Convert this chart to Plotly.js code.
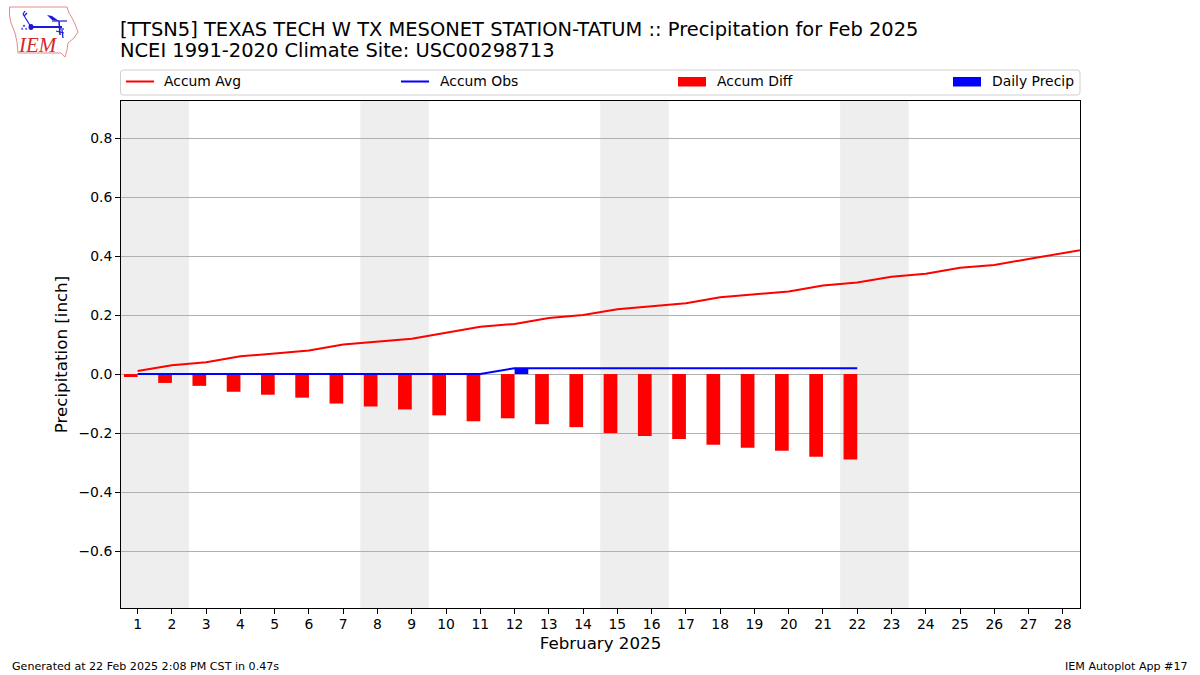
<!DOCTYPE html>
<html>
<head>
<meta charset="utf-8">
<script src="https://cdn.plot.ly/plotly-3.0.1.min.js"></script>
<style>html,body{margin:0;padding:0;background:#fff}#chart{width:1200px;height:675px}</style>
</head>
<body>
<div id="chart"></div>
<script>
const dayTicks = [1,2,3,4,5,6,7,8,9,10,11,12,13,14,15,16,17,18,19,20,21,22,23,24,25,26,27,28];
const avgDays = [1,2,3,4,5,6,7,8,9,10,11,12,13,14,15,16,17,18,19,20,21,22,23,24,25,26,27,28,29];
const accumAvg = [0.01,0.03,0.04,0.06,0.07,0.08,0.10,0.11,0.12,0.14,0.16,0.17,0.19,0.20,0.22,0.23,0.24,0.26,0.27,0.28,0.30,0.31,0.33,0.34,0.36,0.37,0.39,0.41,0.43];
const obsDays = [1,2,3,4,5,6,7,8,9,10,11,12,13,14,15,16,17,18,19,20,21,22];
const accumObs = [0,0,0,0,0,0,0,0,0,0,0,0.02,0.02,0.02,0.02,0.02,0.02,0.02,0.02,0.02,0.02,0.02];
const accumDiff = [-0.01,-0.03,-0.04,-0.06,-0.07,-0.08,-0.10,-0.11,-0.12,-0.14,-0.16,-0.15,-0.17,-0.18,-0.20,-0.21,-0.22,-0.24,-0.25,-0.26,-0.28,-0.29];
const dailyPrecip = [0,0,0,0,0,0,0,0,0,0,0,0.02,0,0,0,0,0,0,0,0,0,0];
const yTicks = [-0.6,-0.4,-0.2,0,0.2,0.4,0.6,0.8];
const weekends = [[0.5,2.5],[7.5,9.5],[14.5,16.5],[21.5,23.5]];
const titleLine1 = "[TTSN5] TEXAS TECH W TX MESONET STATION-TATUM :: Precipitation for Feb 2025";
const titleLine2 = "NCEI 1991-2020 Climate Site: USC00298713";
const legendEntries = [
  {name:"Accum Avg", color:"#ff0000", kind:"line", x:126, tx:164},
  {name:"Accum Obs", color:"#0000ff", kind:"line", x:401, tx:440},
  {name:"Accum Diff", color:"#ff0000", kind:"patch", x:678, tx:717},
  {name:"Daily Precip", color:"#0000ff", kind:"patch", x:953, tx:992}
];

const W=1200,H=675,L=121,R=1080,T=101,B=608;
const px=x=>(x-L)/(R-L), py=y=>(B-y)/(B-T);
const P=pts=>pts.map((p,i)=>(i?'L':'M')+px(p[0])+','+py(p[1])).join(' ');
const font='"DejaVu Sans", sans-serif';
const paper={xref:'paper',yref:'paper'};

const shapes=[];
weekends.forEach(w=>shapes.push({type:'rect',xref:'x',yref:'paper',x0:w[0],x1:w[1],y0:0,y1:1,fillcolor:'#eeeeee',line:{width:0},layer:'below'}));

// legend frame
const bx0=120.5,bx1=1080,by0=70,by1=95,r=3;
shapes.push({...paper,type:'path',line:{color:'#cfcfcf',width:1},fillcolor:'#ffffff',
  path:`M${px(bx0+r)},${py(by0)} L${px(bx1-r)},${py(by0)} Q${px(bx1)},${py(by0)} ${px(bx1)},${py(by0+r)} L${px(bx1)},${py(by1-r)} Q${px(bx1)},${py(by1)} ${px(bx1-r)},${py(by1)} L${px(bx0+r)},${py(by1)} Q${px(bx0)},${py(by1)} ${px(bx0)},${py(by1-r)} L${px(bx0)},${py(by0+r)} Q${px(bx0)},${py(by0)} ${px(bx0+r)},${py(by0)} Z`});
legendEntries.forEach(e=>{
  if(e.kind==='line') shapes.push({...paper,type:'line',x0:px(e.x),x1:px(e.x+28),y0:py(81.5),y1:py(81.5),line:{color:e.color,width:2}});
  else shapes.push({...paper,type:'rect',x0:px(e.x),x1:px(e.x+28),y0:py(77),y1:py(86.5),fillcolor:e.color,line:{width:0}});
});

// IEM logo
const blue='#1a1ad8';
shapes.push({...paper,type:'path',line:{color:'#e58a8a',width:1},fillcolor:'rgba(0,0,0,0)',
  path:P([[9.5,7],[67,7],[69,13],[72,18],[75,24],[78,32],[74,38],[68,43],[67,50],[65,57],[61,53],[18,53],[17,42],[15,33],[11,23],[9.5,15]])+' Z'});
[[[31,27],[62,27],2],[[31,27],[23,14],1.2],[[23,14],[25,11],1.2],[[24,16],[27,13],1.2],[[52,21],[67,21],1.2],[[59,21],[60,35],1.5],[[60,29],[64,29],1.2],[[56,31],[64,33],1.2],[[62,30],[63,38],1.2]].forEach(s=>
  shapes.push({...paper,type:'line',x0:px(s[0][0]),y0:py(s[0][1]),x1:px(s[1][0]),y1:py(s[1][1]),line:{color:blue,width:s[2]}}));
shapes.push({...paper,type:'path',fillcolor:blue,line:{width:0},path:P([[47,15],[52,16],[59,21],[52,20]])+' Z'});
shapes.push({...paper,type:'circle',x0:px(28.5),x1:px(33.5),y0:py(24),y1:py(30),fillcolor:blue,line:{width:0}});
shapes.push({...paper,type:'path',fillcolor:blue,line:{width:0},path:P([[24,24.5],[25.5,26.5],[22.5,26.5]])+' Z '+P([[22,27.5],[23.5,29.5],[21,29.5]])+' Z '+P([[26,27.5],[27.5,29.5],[25,29.5]])+' Z'});

const ann=(text,x,y,size,xanchor,extra)=>Object.assign({...paper,text,x:px(x),y:py(y),xanchor,yanchor:'middle',showarrow:false,align:xanchor,borderpad:0,borderwidth:0,font:{family:font,size,color:'#000'}},extra||{});
const annotations=[
  ann(titleLine2,120,50.5,19.45,'left'),
  ann("Generated at 22 Feb 2025 2:08 PM CST in 0.47s",12,666,11.1,'left'),
  ann("IEM Autoplot App #17",1188,666,11.1,'right'),
  ann("IEM",37.5,45,21,'center',{font:{family:'"Liberation Serif", serif',size:21,color:'#d42a2a'},text:"<i>IEM</i>"})
];
legendEntries.forEach(e=>annotations.push(ann(e.name,e.tx,81.5,13.9,'left')));

const data=[
  {type:'bar',name:'Accum Diff',x:obsDays,y:accumDiff,width:0.4,offset:-0.4,marker:{color:'#ff0000',line:{width:0}}},
  {type:'bar',name:'Daily Precip',x:obsDays,y:dailyPrecip,width:0.4,offset:0,marker:{color:'#0000ff',line:{width:0}}},
  {type:'scatter',mode:'lines',name:'Accum Avg',x:avgDays,y:accumAvg,line:{color:'#ff0000',width:2}},
  {type:'scatter',mode:'lines',name:'Accum Obs',x:obsDays,y:accumObs,line:{color:'#0000ff',width:2}}
];
const layout={
  width:W,height:H,autosize:false,showlegend:false,hovermode:false,barmode:'overlay',
  paper_bgcolor:'#fff',plot_bgcolor:'#fff',
  margin:{l:L,r:W-R,t:T,b:H-B,pad:0},
  font:{family:font,color:'#000',size:13.9},
  title:{text:titleLine1,font:{family:font,size:19.45,color:'#000'},xref:'container',x:0.1,xanchor:'left',yref:'container',y:1-29/H,yanchor:'middle',pad:{l:0,r:0,t:0,b:0}},
  xaxis:{range:[0.5146,28.5],tickmode:'array',tickvals:dayTicks,ticktext:dayTicks.map(String),showgrid:false,zeroline:false,
    showline:true,mirror:true,linecolor:'#000',linewidth:1,ticks:'outside',ticklen:5,tickwidth:1,tickcolor:'#000',tickangle:0,ticklabelstandoff:-2,
    tickfont:{family:font,size:13.9,color:'#000'},title:{text:'February 2025',font:{family:font,size:16.67,color:'#000'},standoff:6}},
  yaxis:{range:[-0.793,0.9256],tickmode:'array',tickvals:yTicks,tickformat:'.1f',showgrid:true,gridcolor:'#b0b0b0',gridwidth:1,zeroline:false,
    showline:true,mirror:true,linecolor:'#000',linewidth:1,ticks:'outside',ticklen:5,tickwidth:1,tickcolor:'#000',
    tickfont:{family:font,size:13.9,color:'#000'},title:{text:'Precipitation [inch]',font:{family:font,size:16.67,color:'#000'},standoff:6}},
  shapes,annotations
};
Plotly.newPlot('chart',data,layout,{displayModeBar:false,staticPlot:true});
</script>
</body>
</html>
